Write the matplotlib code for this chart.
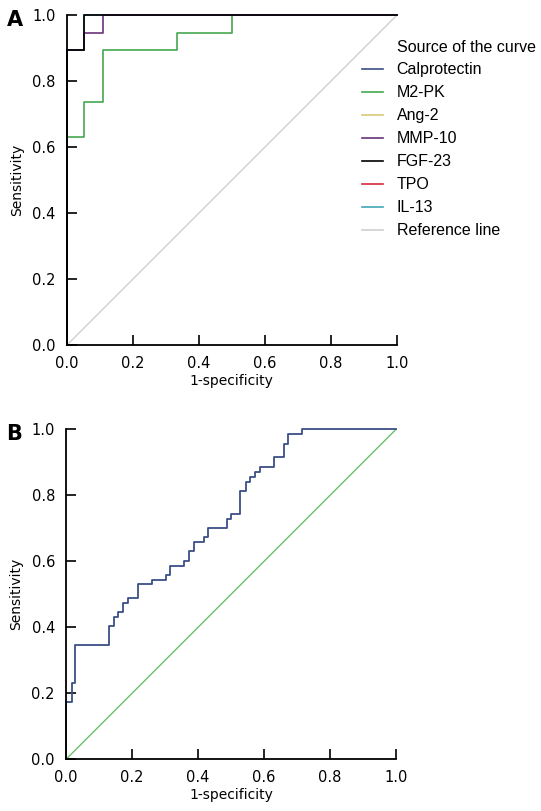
import matplotlib
matplotlib.use("Agg")
import matplotlib.pyplot as plt

# panel A: ROC step curves (1-specificity, sensitivity)
fgf23_fpr = [0.0, 0.0, 0.053, 0.053, 1.0]
fgf23_tpr = [0.0, 0.895, 0.895, 1.0, 1.0]
mmp10_fpr = [0.0, 0.0, 0.053, 0.053, 0.111, 0.111, 1.0]
mmp10_tpr = [0.0, 0.895, 0.895, 0.947, 0.947, 1.0, 1.0]
m2pk_fpr = [0.0, 0.0, 0.053, 0.053, 0.111, 0.111, 0.333, 0.333, 0.5, 0.5, 1.0]
m2pk_tpr = [0.0, 0.632, 0.632, 0.737, 0.737, 0.895, 0.895, 0.947, 0.947, 1.0, 1.0]
# hidden below FGF-23 in the original figure
hidden_fpr = fgf23_fpr
hidden_tpr = fgf23_tpr

legend_labels = ["Calprotectin", "M2-PK", "Ang-2", "MMP-10", "FGF-23", "TPO", "IL-13", "Reference line"]
legend_colors = ["#3b4f86", "#45a84f", "#d9c97a", "#6a3378", "#000000", "#d62a3c", "#42a6b6", "#cfcfcf"]

# panel B: calprotectin ROC
calpro_fpr = [0.0, 0.0, 0.017, 0.017, 0.028, 0.028, 0.129, 0.129, 0.145, 0.145, 0.158, 0.158,
              0.172, 0.172, 0.187, 0.187, 0.217, 0.217, 0.260, 0.260, 0.302, 0.302, 0.316, 0.316,
              0.357, 0.357, 0.372, 0.372, 0.387, 0.387, 0.417, 0.417, 0.429, 0.429, 0.487, 0.487,
              0.501, 0.501, 0.528, 0.528, 0.545, 0.545, 0.558, 0.558, 0.573, 0.573, 0.587, 0.587,
              0.629, 0.629, 0.660, 0.660, 0.673, 0.673, 0.714, 0.714, 1.0]
calpro_tpr = [0.0, 0.173, 0.173, 0.23, 0.23, 0.345, 0.345, 0.403, 0.403, 0.430, 0.430, 0.445,
              0.445, 0.473, 0.473, 0.488, 0.488, 0.530, 0.530, 0.542, 0.542, 0.558, 0.558, 0.587,
              0.587, 0.600, 0.600, 0.630, 0.630, 0.658, 0.658, 0.673, 0.673, 0.700, 0.700, 0.729,
              0.729, 0.742, 0.742, 0.814, 0.814, 0.841, 0.841, 0.856, 0.856, 0.870, 0.870, 0.885,
              0.885, 0.915, 0.915, 0.956, 0.956, 0.985, 0.985, 1.0, 1.0]
ref_line = [0.0, 1.0]

ticks = [0.0, 0.2, 0.4, 0.6, 0.8, 1.0]
tick_labels = ["0.0", "0.2", "0.4", "0.6", "0.8", "1.0"]

legend_font = ["Liberation Sans", "DejaVu Sans"]

fig = plt.figure(figsize=(5.41, 8.11), dpi=100)
axA = fig.add_axes([0.1233, 0.5742, 0.61, 0.4069])
axB = fig.add_axes([0.1220, 0.0637, 0.61, 0.4069])


def style_axes(ax):
    ax.set_xlim(0, 1)
    ax.set_ylim(0, 1)
    for side in ["top", "right"]:
        ax.spines[side].set_visible(False)
    for side in ["left", "bottom"]:
        ax.spines[side].set_linewidth(1.3)
    ax.set_xticks(ticks)
    ax.set_xticklabels(tick_labels)
    ax.set_yticks(ticks)
    ax.set_yticklabels(tick_labels)
    ax.tick_params(direction="in", length=7, width=1.2, labelsize=10.5, pad=8)
    ax.set_xlabel("1-specificity", fontsize=10, labelpad=2)
    ax.set_ylabel("Sensitivity", fontsize=10, labelpad=6)


# panel A
axA.plot(ref_line, ref_line, color=legend_colors[7], lw=1.0, clip_on=False)
for c in [legend_colors[0], legend_colors[2], legend_colors[5], legend_colors[6]]:
    axA.plot(hidden_fpr, hidden_tpr, color=c, lw=1.2, clip_on=False)
axA.plot(m2pk_fpr, m2pk_tpr, color=legend_colors[1], lw=1.2, clip_on=False)
axA.plot(mmp10_fpr, mmp10_tpr, color=legend_colors[3], lw=1.2, clip_on=False)
axA.plot(fgf23_fpr, fgf23_tpr, color=legend_colors[4], lw=1.2, clip_on=False)
style_axes(axA)

handles = [plt.Line2D([], [], color=c, lw=1.2) for c in legend_colors]
fig.text(397 / 541, 1 - 48 / 811, "Source of the curve", family=legend_font, fontsize=11.5,
         va="center", ha="left")
leg = fig.legend(handles, legend_labels,
                 loc="upper left", bbox_to_anchor=(0.643, 0.941), frameon=False,
                 prop={"family": legend_font, "size": 11.5},
                 handlelength=1.3, handletextpad=0.85, labelspacing=0.50, borderpad=0.4)

# panel B
axB.plot(ref_line, ref_line, color="#6cbf6c", lw=1.0, clip_on=False)
axB.plot(calpro_fpr, calpro_tpr, color="#3b4f86", lw=1.3, clip_on=False)
style_axes(axB)

fig.text(0.012, 0.975, "A", fontsize=15, fontweight="bold", va="center")
fig.text(0.012, 0.465, "B", fontsize=15, fontweight="bold", va="center")

fig.savefig("out.png", dpi=100)
